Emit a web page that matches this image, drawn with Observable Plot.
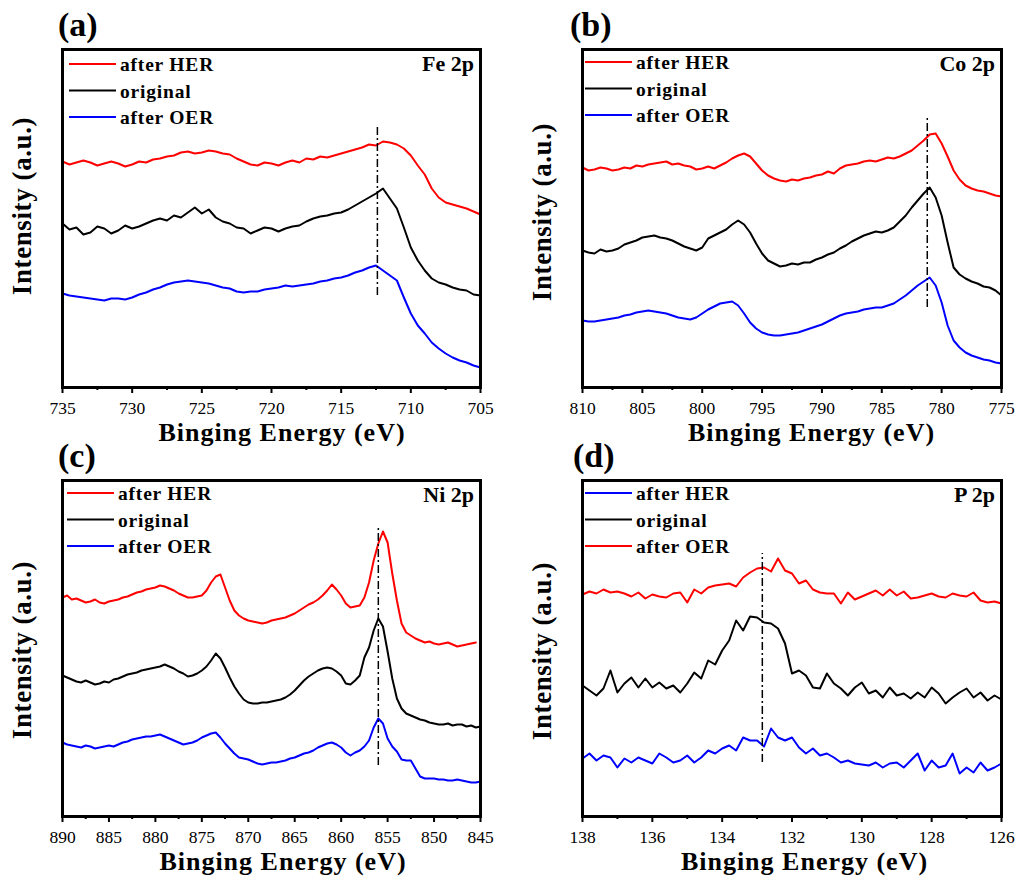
<!DOCTYPE html>
<html>
<head>
<meta charset="utf-8">
<script src="https://cdn.jsdelivr.net/npm/d3@7"></script>
<script src="https://cdn.jsdelivr.net/npm/@observablehq/plot@0.6"></script>
<style>
  html, body { margin: 0; padding: 0; background: #fff; }
  #fig { position: relative; width: 1019px; height: 880px; background: #fff; overflow: hidden; }
  .panel { position: absolute; }
  #overlay { position: absolute; left: 0; top: 0; pointer-events: none; }
</style>
</head>
<body>
<div id="fig"></div>
<script>
const FONT = "'Liberation Serif', 'Times New Roman', serif";
// ---------- Data ----------
// Panel (a) Fe 2p : 735 -> 705 eV, step 0.5 eV
const feStart = 735, feStep = 0.5;
const feHER = [226,223,225,227,225,222,224,226,224,221, 223,226,225,228,229,231,232,235,236,234, 235,237,236,234,233,229,226,223,222,225, 224,222,225,227,225,229,228,231,230,232, 234,236,238,240,243,242,246,245,243,239, 232,222,213,199,190,185,183,181,179,176, 173];
const feOrig = [164,158,160,153,155,161,159,154,157,162, 159,161,164,167,169,167,172,170,175,180, 174,178,170,166,164,160,159,154,157,160, 159,156,159,161,162,166,169,171,172,174, 175,178,182,186,190,194,199,189,179,160, 140,127,117,109,105,103,100,98,97,93, 92];
const feOER = [94,92,91,90,89,88,87,89,89,88, 90,93,95,98,100,103,105,106,107,106, 105,104,102,100,99,96,95,96,96,98, 99,100,102,101,102,103,104,106,107,109, 110,112,115,117,120,122,117,112,107,90, 74,62,54,45,39,34,30,27,25,22, 20];
const feTicks = [735,730,725,720,715,710,705];
const feMinor = [732.5,727.5,722.5,717.5,712.5,707.5];
const fePeak = [{E: 712.4, y1: 92, y2: 262}];

// Panel (b) Co 2p : 810 -> 775 eV, step 0.5 eV
const coStart = 810, coStep = 0.5;
const coHER = [220,217,218,220,219,217,218,220,219,222, 221,223,224,225,226,223,224,222,221,218, 219,221,219,222,225,229,232,234,231,224, 217,212,209,207,206,208,207,209,210,212, 213,216,214,219,222,223,224,226,227,226, 228,230,229,231,234,237,242,247,253,254, 244,231,217,208,202,199,197,196,194,192, 191];
const coOrig = [137,135,134,138,136,137,139,143,145,147, 150,151,152,150,149,147,144,141,139,137, 140,149,152,155,158,163,167,163,155,144, 134,127,124,121,122,124,123,125,125,128, 130,133,135,139,142,146,149,152,154,156, 155,157,160,166,172,180,187,194,200,190, 172,145,120,113,109,106,104,101,100,97, 92];
const coOER = [67,66,66,67,68,69,70,72,73,75, 76,77,76,75,74,72,70,69,68,70, 74,78,81,84,85,86,82,74,65,59, 55,53,52,52,53,54,55,57,59,61, 63,66,69,72,74,75,76,78,79,80, 80,82,84,88,92,97,102,106,110,102, 85,62,47,40,35,32,30,28,27,25, 24];
const coTicks = [810,805,800,795,790,785,780,775];
const coMinor = [807.5,802.5,797.5,792.5,787.5,782.5,777.5];
const coPeak = [{E: 781.2, y1: 80, y2: 272}];

// Panel (c) Ni 2p : 890 -> 845 eV, step 0.5 eV
const niStart = 890, niStep = 0.5;
const niHER = [219,221,217,218,216,214,215,217,214,213, 215,216,217,219,220,222,224,225,227,228, 229,231,230,228,226,223,221,219,219,220, 221,226,234,240,242,229,216,206,201,198, 196,195,194,193,194,196,197,198,199,201, 203,206,209,212,214,217,221,226,232,227, 221,213,209,210,211,219,234,256,273,285, 274,243,216,193,184,181,178,176,174,175, 173,172,173,174,172,170,171,172,173,174, null];
const niOrig = [141,139,137,135,134,136,134,132,133,135, 134,137,138,140,142,143,144,146,147,148, 149,150,152,150,148,145,143,140,141,143, 146,150,156,163,158,149,139,130,123,117, 114,113,113,114,114,115,116,117,119,122, 126,131,136,140,143,146,148,149,148,145, 141,133,132,136,141,159,169,186,198,190, 165,138,118,108,103,101,99,97,96,94, 93,92,92,93,91,92,92,90,91,89, 90];
const niOER = [74,72,71,70,69,71,70,68,69,70, 71,70,72,74,75,77,78,79,80,80, 81,82,80,78,76,74,72,73,74,76, 79,81,83,84,79,73,68,63,59,58, 57,55,53,52,53,54,54,55,56,58, 59,61,63,64,66,69,71,73,74,72, 69,64,61,64,66,70,76,89,98,93, 78,70,65,57,56,56,48,40,38,38, 38,37,37,36,36,37,36,35,34,34, 35];
const niTicks = [890,885,880,875,870,865,860,855,850,845];
const niMinor = [887.5,882.5,877.5,872.5,867.5,862.5,857.5,852.5,847.5];
const niPeak = [{E: 856.0, y1: 51, y2: 289}];

// Panel (d) P 2p : 138 -> 126 eV, step 0.2 eV
const pStart = 138, pStep = 0.2;
const pOER = [222,225,223,227,224,225,223,220,224,218, 222,220,219,223,224,214,227,223,229,231, 232,233,230,239,244,248,249,245,258,246, 243,233,236,227,224,223,223,213,224,217, 220,223,226,221,227,221,225,218,219,221, 223,220,219,223,221,220,224,216,214,215, 213];
const pOrig = [131,126,121,128,146,124,133,139,129,138, 129,134,128,131,124,133,144,138,156,152, 166,176,196,186,200,199,194,193,188,173, 143,146,141,129,128,143,133,128,121,129, 134,123,126,119,129,121,123,118,124,119, 129,123,113,119,124,128,119,124,116,121, 117];
const pHER = [58,63,56,61,59,49,58,54,59,56, 53,63,59,54,56,61,54,59,66,63, 68,71,66,79,76,76,70,88,79,76, 79,69,63,68,61,63,59,54,56,53, 52,51,54,49,53,54,49,56,63,46, 56,49,51,63,43,49,44,54,46,49, 53];
const pTicks = [138,136,134,132,130,128,126];
const pMinor = [137,135,133,131,129,127];
const pPeak = [{E: 132.85, y1: 54, y2: 263}];

const RED = "#ff0000", BLACK = "#000000", BLUE = "#0000ff";

// ---------- Panel configuration ----------
const panels = [
  { tag: "(a)", element: "Fe 2p", left: 0, top: 0, width: 510, height: 440,
    m: {top: 49, bottom: 53, left: 62, right: 30}, yMax: 338,
    start: feStart, step: feStep, domain: [735, 705], ticks: feTicks, minor: feMinor, peak: fePeak,
    series: [{name: "after HER", color: RED, values: feHER}, {name: "original", color: BLACK, values: feOrig}, {name: "after OER", color: BLUE, values: feOER}],
    tagDx: -4, xTitleDx: 11, yTitleDy: -12, legendDy: 15, legendDx: 7 },
  { tag: "(b)", element: "Co 2p", left: 520, top: 0, width: 499, height: 440,
    m: {top: 49, bottom: 53, left: 62, right: 18}, yMax: 338,
    start: coStart, step: coStep, domain: [810, 775], ticks: coTicks, minor: coMinor, peak: coPeak,
    series: [{name: "after HER", color: RED, values: coHER}, {name: "original", color: BLACK, values: coOrig}, {name: "after OER", color: BLUE, values: coOER}],
    tagDx: -12, xTitleDx: 20, yTitleDy: -6, legendDy: 13, legendDx: 3 },
  { tag: "(c)", element: "Ni 2p", left: 0, top: 440, width: 510, height: 440,
    m: {top: 40, bottom: 64, left: 62, right: 30}, yMax: 336,
    start: niStart, step: niStep, domain: [890, 845], ticks: niTicks, minor: niMinor, peak: niPeak,
    series: [{name: "after HER", color: RED, values: niHER}, {name: "original", color: BLACK, values: niOrig}, {name: "after OER", color: BLUE, values: niOER}],
    tagDx: -4, xTitleDx: 12, yTitleDy: 2, legendDy: 13, legendDx: 5 },
  { tag: "(d)", element: "P 2p", left: 520, top: 440, width: 499, height: 440,
    m: {top: 40, bottom: 64, left: 62, right: 18}, yMax: 336,
    start: pStart, step: pStep, domain: [138, 126], ticks: pTicks, minor: pMinor, peak: pPeak,
    series: [{name: "after HER", color: BLUE, values: pHER}, {name: "original", color: BLACK, values: pOrig}, {name: "after OER", color: RED, values: pOER}],
    tagDx: -9, xTitleDx: 13, yTitleDy: 3, legendDy: 13, legendDx: 3 }
];

const fig = document.getElementById("fig");
const NS = "http://www.w3.org/2000/svg";
const overlay = document.createElementNS(NS, "svg");
overlay.setAttribute("id", "overlay");
overlay.setAttribute("width", 1019);
overlay.setAttribute("height", 880);

function addText(str, x, y, size, anchor, spacing, transform) {
  const t = document.createElementNS(NS, "text");
  t.setAttribute("x", x);
  t.setAttribute("y", y);
  t.setAttribute("text-anchor", anchor || "start");
  t.style.fontFamily = FONT;
  t.style.fontSize = size + "px";
  t.style.fontWeight = "bold";
  t.style.fill = "#000";
  if (spacing) t.style.letterSpacing = spacing + "px";
  if (transform) t.setAttribute("transform", transform);
  t.textContent = str;
  overlay.appendChild(t);
}
function addLine(x1, y1, x2, y2, color) {
  const l = document.createElementNS(NS, "line");
  l.setAttribute("x1", x1); l.setAttribute("y1", y1);
  l.setAttribute("x2", x2); l.setAttribute("y2", y2);
  l.setAttribute("stroke", color); l.setAttribute("stroke-width", 2.2);
  overlay.appendChild(l);
}

for (const p of panels) {
  const chart = Plot.plot({
    width: p.width,
    height: p.height,
    marginTop: p.m.top,
    marginBottom: p.m.bottom,
    marginLeft: p.m.left,
    marginRight: p.m.right,
    style: { fontFamily: FONT, fontSize: "17.5px", color: "#000", background: "#fff" },
    x: { domain: p.domain, label: null },
    y: { domain: [0, p.yMax], axis: null },
    marks: [
      ...p.series.map(s => Plot.line(s.values, {
        x: (d, i) => p.start - i * p.step,
        y: d => d,
        stroke: s.color,
        strokeWidth: 2
      })),
      Plot.ruleX(p.peak, { x: "E", y1: "y1", y2: "y2", stroke: "#000", strokeWidth: 1.5, strokeDasharray: "8,3,2,3" }),
      Plot.axisX({ ticks: p.ticks, tickSize: 6, tickPadding: 8, strokeWidth: 2, label: null, tickFormat: d => String(d) }),
      Plot.axisX({ ticks: p.minor, tickSize: 3, strokeWidth: 2, label: null, tickFormat: () => "" }),
      Plot.frame({ stroke: "#000", strokeWidth: 3 })
    ]
  });
  const wrap = document.createElement("div");
  wrap.className = "panel";
  wrap.style.left = p.left + "px";
  wrap.style.top = p.top + "px";
  wrap.appendChild(chart);
  fig.appendChild(wrap);

  const fl = p.left + p.m.left;
  const fr = p.left + p.width - p.m.right;
  const ft = p.top + p.m.top;
  const fb = p.top + p.height - p.m.bottom;
  const cx = (fl + fr) / 2;
  const cy = (ft + fb) / 2;

  // panel tag
  addText(p.tag, fl + p.tagDx, ft - 13, 34, "start");
  // axis titles
  addText("Binging Energy (eV)", cx + p.xTitleDx, fb + 54, 26, "middle", 1);
  const yx = fl - 31, yy = cy + p.yTitleDy;
  addText("Intensity (a.u.)", yx, yy, 27, "middle", 0.6, `rotate(-90 ${yx} ${yy})`);
  // element label
  addText(p.element, fr - 6, ft + 22, 22, "end");
  // legend
  p.series.forEach((s, i) => {
    const ly = ft + p.legendDy + 26.5 * i;
    addLine(fl + p.legendDx, ly, fl + p.legendDx + 47, ly, s.color);
    addText(s.name, fl + p.legendDx + 51, ly + 7, 19.5, "start", 0.8);
  });
}
fig.appendChild(overlay);
</script>
</body>
</html>
